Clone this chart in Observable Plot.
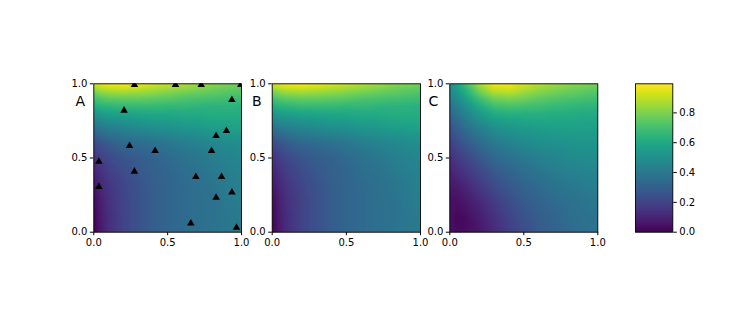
<!DOCTYPE html>
<html>
<head>
<meta charset="utf-8">
<script src="https://cdn.jsdelivr.net/npm/d3@7"></script>
<script src="https://cdn.jsdelivr.net/npm/@observablehq/plot@0.6"></script>
<style>
  html, body { margin: 0; padding: 0; background: white; }
  #fig { position: relative; width: 747px; height: 313px; background: white; overflow: hidden; font-family: "DejaVu Sans", sans-serif; }
  #fig > svg { position: absolute; }
</style>
</head>
<body>
<div id="fig"></div>
<script>
// ---- Data ----
const gridX = [0, 0.05, 0.1, 0.2, 0.3, 0.4, 0.5, 0.6, 0.7, 0.8, 0.9, 1.0];
const gridY = [1.0, 0.95, 0.9, 0.85, 0.8, 0.7, 0.6, 0.5, 0.4, 0.3, 0.2, 0.1, 0.0]; // rows, top to bottom

// True field (panels A and B)
const fieldTrue = [
  [0.93, 0.96, 0.98, 0.99, 0.97, 0.94, 0.91, 0.88, 0.85, 0.82, 0.80, 0.78],
  [0.80, 0.84, 0.86, 0.87, 0.86, 0.84, 0.82, 0.80, 0.78, 0.76, 0.74, 0.73],
  [0.70, 0.73, 0.75, 0.76, 0.76, 0.75, 0.74, 0.72, 0.71, 0.70, 0.69, 0.68],
  [0.61, 0.64, 0.65, 0.67, 0.67, 0.67, 0.66, 0.66, 0.65, 0.64, 0.64, 0.63],
  [0.52, 0.55, 0.57, 0.58, 0.59, 0.60, 0.60, 0.61, 0.61, 0.62, 0.62, 0.62],
  [0.36, 0.40, 0.42, 0.45, 0.47, 0.49, 0.50, 0.52, 0.53, 0.55, 0.56, 0.57],
  [0.22, 0.26, 0.29, 0.33, 0.35, 0.37, 0.39, 0.42, 0.44, 0.46, 0.48, 0.49],
  [0.14, 0.19, 0.22, 0.26, 0.29, 0.31, 0.34, 0.37, 0.39, 0.42, 0.44, 0.46],
  [0.09, 0.14, 0.18, 0.23, 0.27, 0.30, 0.32, 0.35, 0.37, 0.40, 0.42, 0.44],
  [0.05, 0.11, 0.15, 0.21, 0.25, 0.29, 0.32, 0.34, 0.36, 0.38, 0.41, 0.43],
  [0.02, 0.09, 0.14, 0.20, 0.25, 0.29, 0.32, 0.34, 0.36, 0.37, 0.40, 0.42],
  [0.01, 0.08, 0.13, 0.20, 0.25, 0.29, 0.32, 0.34, 0.36, 0.37, 0.39, 0.41],
  [0.00, 0.07, 0.13, 0.20, 0.25, 0.29, 0.32, 0.34, 0.36, 0.38, 0.39, 0.40]
];

// Reconstructed field (panel C)
const fieldRecon = [
  [0.50, 0.58, 0.68, 0.87, 0.98, 0.98, 0.93, 0.88, 0.85, 0.82, 0.80, 0.78],
  [0.46, 0.53, 0.61, 0.78, 0.89, 0.90, 0.86, 0.82, 0.79, 0.77, 0.75, 0.73],
  [0.42, 0.48, 0.55, 0.69, 0.78, 0.80, 0.78, 0.75, 0.73, 0.71, 0.70, 0.69],
  [0.37, 0.43, 0.49, 0.61, 0.69, 0.71, 0.70, 0.69, 0.67, 0.66, 0.65, 0.65],
  [0.33, 0.38, 0.44, 0.54, 0.61, 0.63, 0.63, 0.63, 0.62, 0.62, 0.61, 0.61],
  [0.25, 0.30, 0.35, 0.43, 0.49, 0.52, 0.54, 0.55, 0.56, 0.56, 0.56, 0.56],
  [0.19, 0.23, 0.27, 0.34, 0.40, 0.44, 0.47, 0.49, 0.50, 0.51, 0.52, 0.52],
  [0.13, 0.17, 0.20, 0.27, 0.33, 0.37, 0.40, 0.43, 0.45, 0.47, 0.48, 0.48],
  [0.09, 0.12, 0.15, 0.21, 0.27, 0.31, 0.35, 0.38, 0.41, 0.43, 0.44, 0.45],
  [0.06, 0.07, 0.10, 0.16, 0.22, 0.27, 0.31, 0.34, 0.37, 0.39, 0.41, 0.42],
  [0.04, 0.04, 0.06, 0.11, 0.17, 0.23, 0.28, 0.31, 0.34, 0.36, 0.38, 0.40],
  [0.04, 0.02, 0.03, 0.08, 0.14, 0.20, 0.25, 0.29, 0.32, 0.35, 0.37, 0.38],
  [0.05, 0.03, 0.03, 0.06, 0.12, 0.18, 0.23, 0.28, 0.31, 0.34, 0.36, 0.37]
];

// Sample locations (triangles in panel A)
const sampleX = [0.275, 0.553, 0.727, 0.995, 0.935, 0.205, 0.898, 0.828, 0.242, 0.415, 0.797, 0.034, 0.275, 0.691, 0.865, 0.034, 0.935, 0.828, 0.657, 0.966];
const sampleY = [1.0, 1.0, 1.0, 1.0, 0.899, 0.827, 0.690, 0.656, 0.589, 0.555, 0.555, 0.483, 0.416, 0.380, 0.380, 0.312, 0.276, 0.240, 0.067, 0.038];

const axisTicks = [0, 0.5, 1];
const colorTicks = [0, 0.2, 0.4, 0.6, 0.8];
const colorDomain = [0, 0.995];
const panelLabels = ["A", "B", "C"];

// ---- Build ----
const fmt = d => d.toFixed(1);
const toCells = field => gridY.flatMap((y, i) => gridX.map((x, j) => ({x, y, v: field[i][j]})));
const samples = sampleX.map((x, i) => ({x, y: sampleY[i]}));

const baseStyle = {fontSize: "10px", fontFamily: "DejaVu Sans, sans-serif", background: "transparent", overflow: "visible", color: "black"};

function panel({field, label, left, width, marginLeft, marginRight, labelDx, withPoints}) {
  const svg = Plot.plot({
    width, height: 200,
    marginLeft, marginRight, marginTop: 23.3, marginBottom: 28.3,
    style: baseStyle,
    x: {domain: [0, 1], ticks: axisTicks, tickFormat: fmt, label: null, tickSize: 3.5, tickPadding: 3.5},
    y: {domain: [0, 1], ticks: axisTicks, tickFormat: fmt, label: null, tickSize: 3.5, tickPadding: 3},
    color: {type: "linear", scheme: "viridis", domain: colorDomain, clamp: true},
    marks: [
      Plot.raster(toCells(field), {x: "x", y: "y", fill: "v", interpolate: "barycentric", x1: 0, x2: 1, y1: 0, y2: 1, pixelSize: 1}),
      Plot.frame({stroke: "black", strokeWidth: 0.9}),
      ...(withPoints ? [Plot.dot(samples, {x: "x", y: "y", symbol: "triangle", r: 2.8, fill: "black", stroke: "none", dy: 1, clip: true})] : []),
      Plot.text([label], {frameAnchor: "top-left", dx: labelDx, dy: 17.5, fontSize: 14, textAnchor: "middle", lineAnchor: "middle", fill: "black"})
    ]
  });
  svg.style.left = left + "px";
  svg.style.top = "60px";
  return svg;
}

const fig = document.getElementById("fig");
fig.append(panel({field: fieldTrue, label: panelLabels[0], left: 50, width: 195, marginLeft: 43.3, marginRight: 4, labelDx: -13.5, withPoints: true}));
fig.append(panel({field: fieldTrue, label: panelLabels[1], left: 245, width: 180, marginLeft: 26.7, marginRight: 5, labelDx: -15.5, withPoints: false}));
fig.append(panel({field: fieldRecon, label: panelLabels[2], left: 425, width: 180, marginLeft: 24.3, marginRight: 7.7, labelDx: -16.5, withPoints: false}));

// Colorbar
const cbar = Plot.plot({
  width: 142, height: 200,
  marginLeft: 30, marginRight: 74.7, marginTop: 23.3, marginBottom: 28.3,
  style: baseStyle,
  x: {domain: [0, 1], axis: null},
  y: {domain: colorDomain, axis: "right", ticks: colorTicks, tickFormat: fmt, label: null, tickSize: 3.5, tickPadding: 3},
  color: {type: "linear", scheme: "viridis", domain: colorDomain},
  marks: [
    Plot.raster({fill: (x, y) => y, x1: 0, x2: 1, y1: colorDomain[0], y2: colorDomain[1], pixelSize: 1}),
    Plot.frame({stroke: "black", strokeWidth: 0.9})
  ]
});
cbar.style.left = "605px";
cbar.style.top = "60px";
fig.append(cbar);
</script>
</body>
</html>
